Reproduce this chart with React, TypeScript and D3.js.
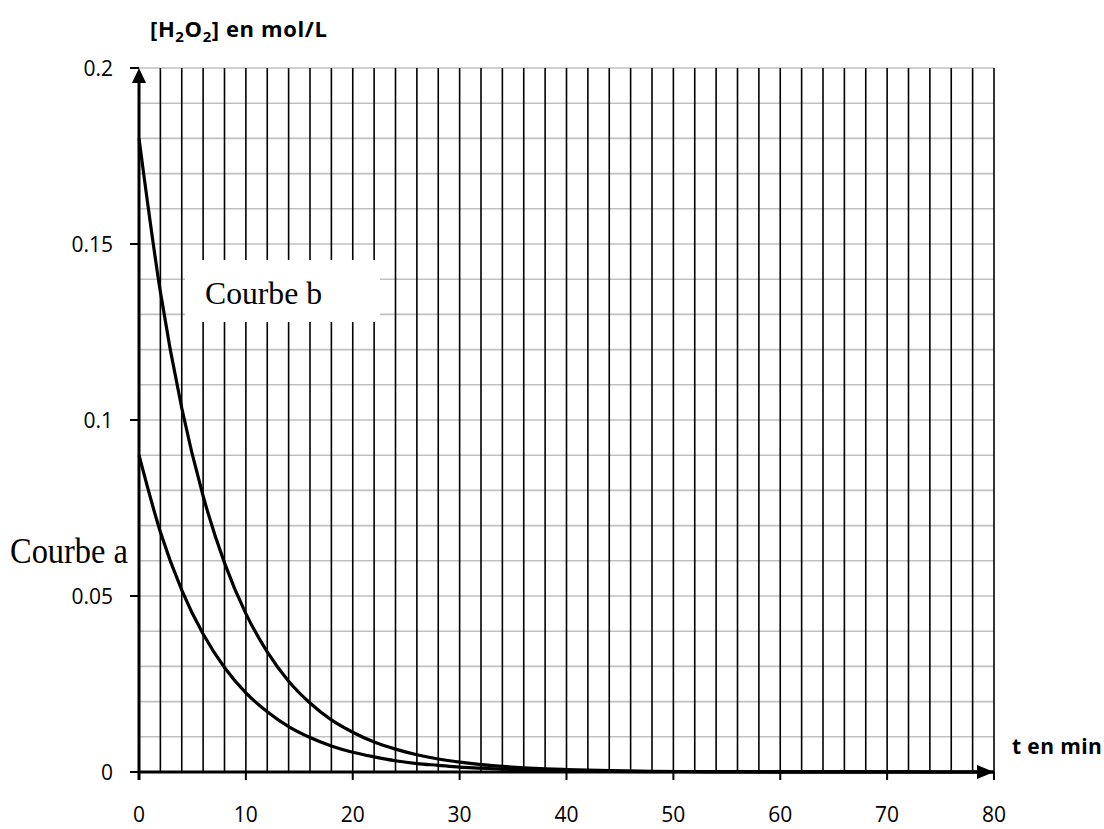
import React from "react";
import * as d3 from "d3";

// Time (min) and concentrations (mol/L)
const times = [0, 2, 4, 6, 8, 10, 12, 14, 16, 18, 20, 22, 24, 26, 28, 30, 32, 34, 36, 38, 40, 44, 48, 52, 56, 60, 64, 68, 72, 76, 80];
const courbeA = [0.09, 0.0682, 0.0517, 0.0392, 0.0297, 0.0225, 0.0171, 0.0129, 0.0098, 0.0074, 0.0056, 0.0043, 0.0032, 0.0024, 0.0019, 0.0014, 0.0011, 0.0008, 0.0006, 0.0005, 0.0004, 0.0002, 0.0001, 0.00007, 0.00004, 0.00002, 0.00001, 0.00001, 0, 0, 0];
const courbeB = [0.18, 0.1364, 0.1034, 0.0784, 0.0594, 0.045, 0.0341, 0.0258, 0.0196, 0.0148, 0.0113, 0.0085, 0.0065, 0.0049, 0.0037, 0.0028, 0.0021, 0.0016, 0.0012, 0.0009, 0.0007, 0.0004, 0.0002, 0.00013, 0.00008, 0.00004, 0.00002, 0.00001, 0.00001, 0, 0];
const xTicks = [0, 10, 20, 30, 40, 50, 60, 70, 80];
const yTicks = [0, 0.05, 0.1, 0.15, 0.2];
const yTickLabels = ["0", "0.05", "0.1", "0.15", "0.2"];

const W = 1104;
const H = 829;

export default function App() {
  const x = d3.scaleLinear().domain([0, 80]).range([139, 994]);
  const y = d3.scaleLinear().domain([0, 0.2]).range([772, 68]);

  const vGrid = d3.range(2, 81, 2);
  const hGrid = d3.range(1, 21).map((i) => i / 100);

  const line = d3
    .line<number>()
    .x((_, i) => x(times[i]))
    .y((d) => y(d))
    .curve(d3.curveMonotoneX);

  const sans = "'Open Sans', sans-serif";
  const serif = "'Liberation Serif', 'Times New Roman', serif";

  return (
    <svg width={W} height={H} style={{ position: "absolute", left: 0, top: 0, background: "#fff" }}>
      <rect x={0} y={0} width={W} height={H} fill="#fff" />
      {/* horizontal gray grid */}
      {hGrid.map((v) => (
        <line key={"h" + v} x1={x(0)} x2={x(80)} y1={y(v)} y2={y(v)} stroke="#c0c0c0" strokeWidth={1.6} />
      ))}
      {/* vertical black grid */}
      {vGrid.map((v) => (
        <line key={"v" + v} x1={x(v)} x2={x(v)} y1={y(0.2)} y2={y(0)} stroke="#000" strokeWidth={1.6} />
      ))}
      {/* Courbe b label box */}
      <rect x={185} y={260} width={195} height={62} fill="#fff" />
      <text x={205} y={304} fontFamily={serif} fontSize={32} fill="#000" textLength={117} lengthAdjust="spacingAndGlyphs">
        Courbe b
      </text>
      <text x={10} y={563} fontFamily={serif} fontSize={35} fill="#000" textLength={118} lengthAdjust="spacingAndGlyphs">
        Courbe a
      </text>

      {/* x ticks */}
      {xTicks.map((v) => (
        <g key={"xt" + v}>
          <line x1={x(v)} x2={x(v)} y1={y(0)} y2={y(0) + 8} stroke="#000" strokeWidth={2} />
          <text x={x(v)} y={822} textAnchor="middle" fontFamily={sans} fontSize={21} fill="#000">
            {v}
          </text>
        </g>
      ))}
      {/* y ticks */}
      {yTicks.map((v, i) => (
        <g key={"yt" + v}>
          <line x1={130} x2={x(0)} y1={y(v)} y2={y(v)} stroke="#000" strokeWidth={2} />
          <text x={113} y={y(v)} dy="0.36em" textAnchor="end" fontFamily={sans} fontSize={21} fill="#000">
            {yTickLabels[i]}
          </text>
        </g>
      ))}

      {/* axes */}
      <line x1={x(0)} x2={x(80) - 14} y1={y(0)} y2={y(0)} stroke="#000" strokeWidth={3} />
      <path d={`M${x(80) - 17},${y(0) - 7} L${x(80)},${y(0)} L${x(80) - 17},${y(0) + 7} Z`} fill="#000" />
      <line x1={x(0)} x2={x(0)} y1={y(0) + 8} y2={y(0.2) + 12} stroke="#000" strokeWidth={3} />
      <path d={`M${x(0) - 7},${y(0.2) + 15} L${x(0)},${y(0.2)} L${x(0) + 7},${y(0.2) + 15} Z`} fill="#000" />

      {/* curves */}
      <path d={line(courbeA) || ""} fill="none" stroke="#000" strokeWidth={3.2} />
      <path d={line(courbeB) || ""} fill="none" stroke="#000" strokeWidth={3.2} />

      {/* axis titles */}
      <text x={150} y={37} fontFamily={sans} fontSize={22} fontWeight="bold" fill="#000" letterSpacing={0.6}>
        [H<tspan fontSize={15} dy={5}>2</tspan>
        <tspan dy={-5}>O</tspan>
        <tspan fontSize={15} dy={5}>2</tspan>
        <tspan dy={-5}>] en mol/L</tspan>
      </text>
      <text x={1012} y={754} fontFamily={sans} fontSize={21} fontWeight="bold" fill="#000" letterSpacing={0.4}>
        t en min
      </text>
    </svg>
  );
}
